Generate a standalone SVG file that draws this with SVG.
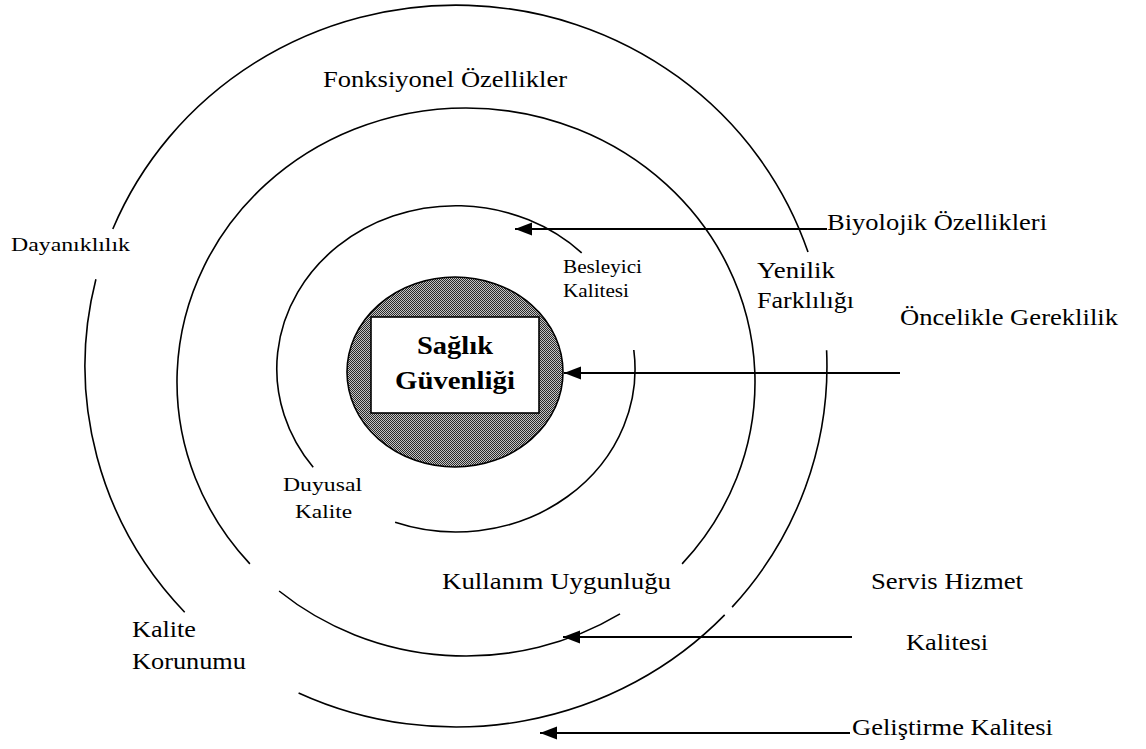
<svg xmlns="http://www.w3.org/2000/svg" width="1146" height="749" viewBox="0 0 1146 749">
<style>
.ring{fill:none;stroke:#000;stroke-width:1.6}
.conn{stroke:#000;stroke-width:2;fill:none;marker-end:url(#ah)}
.lbl{font-family:"Liberation Serif","Times New Roman",serif;fill:#000}
.t{font-size:23px}
.s{font-size:19.5px}
.b{font-size:25px;font-weight:bold}
</style>
<defs>
<marker id="ah" markerUnits="userSpaceOnUse" markerWidth="18" markerHeight="14" viewBox="0 -7 18 14" refX="17" refY="0" orient="auto">
<path d="M0,-6.5 L17,0 L0,6.5 z" fill="#000"/>
</marker>
<pattern id="dots" width="2" height="2" patternUnits="userSpaceOnUse">
<rect width="2" height="2" fill="#c4c4c4"/>
<rect width="1" height="1" fill="#2a2a2a"/>
<rect x="1" y="1" width="1" height="1" fill="#2a2a2a"/>
</pattern>
</defs>
<rect width="1146" height="749" fill="#fff"/>

<g id="ring-outer">
<path class="ring" d="M112.8,229 A371,361 0 0 1 808,252.1"/>
<path class="ring" d="M826.6,350.3 A371,361 0 0 1 732.1,607.1"/>
<path class="ring" d="M724.7,614.9 A371,361 0 0 1 298.6,692.9"/>
<path class="ring" d="M184.7,612.2 A371,361 0 0 1 95.9,279.3"/>
</g>
<g id="ring-middle">
<path class="ring" d="M249.9,563.9 A289,274 0 1 1 682.1,563.9"/>
<path class="ring" d="M620,613.9 A289,274 0 0 1 279.1,591"/>
</g>
<g id="ring-inner">
<path class="ring" d="M313.2,467.3 A179,163 0 0 1 581.7,252.9"/>
<path class="ring" d="M633.8,350 A179,163 0 0 1 395.1,522.3"/>
</g>

<g id="core">
<ellipse cx="455" cy="372" rx="108" ry="95" fill="url(#dots)" stroke="#000" stroke-width="1.6"/>
<rect x="371" y="317" width="168" height="96" fill="#fff" stroke="#000" stroke-width="1.6"/>
<text class="lbl b" x="455" y="354" text-anchor="middle" textLength="76" lengthAdjust="spacingAndGlyphs">Sağlık</text>
<text class="lbl b" x="455" y="389" text-anchor="middle" textLength="120" lengthAdjust="spacingAndGlyphs">Güvenliği</text>
</g>

<g id="connectors">
<line class="conn" x1="827" y1="229" x2="515" y2="229"/>
<line class="conn" x1="900" y1="373" x2="564" y2="373"/>
<line class="conn" x1="852" y1="637" x2="563" y2="637"/>
<line class="conn" x1="850" y1="733" x2="540" y2="733"/>
</g>

<g id="labels">
<text class="lbl t" x="323" y="87" textLength="244" lengthAdjust="spacingAndGlyphs">Fonksiyonel Özellikler</text>
<text class="lbl s" x="11" y="251" textLength="119" lengthAdjust="spacingAndGlyphs">Dayanıklılık</text>
<text class="lbl t" x="827" y="230" textLength="220" lengthAdjust="spacingAndGlyphs">Biyolojik Özellikleri</text>
<text class="lbl t" x="757" y="278" textLength="78" lengthAdjust="spacingAndGlyphs">Yenilik</text>
<text class="lbl t" x="757" y="308" textLength="97" lengthAdjust="spacingAndGlyphs">Farklılığı</text>
<text class="lbl s" x="563" y="273" textLength="79" lengthAdjust="spacingAndGlyphs">Besleyici</text>
<text class="lbl s" x="563" y="297" textLength="66" lengthAdjust="spacingAndGlyphs">Kalitesi</text>
<text class="lbl t" x="900" y="325" textLength="218" lengthAdjust="spacingAndGlyphs">Öncelikle Gereklilik</text>
<text class="lbl s" x="283" y="491" textLength="79" lengthAdjust="spacingAndGlyphs">Duyusal</text>
<text class="lbl s" x="295" y="518" textLength="57" lengthAdjust="spacingAndGlyphs">Kalite</text>
<text class="lbl t" x="442" y="589" textLength="229" lengthAdjust="spacingAndGlyphs">Kullanım Uygunluğu</text>
<text class="lbl t" x="871" y="589" textLength="152" lengthAdjust="spacingAndGlyphs">Servis Hizmet</text>
<text class="lbl t" x="906" y="650" textLength="82" lengthAdjust="spacingAndGlyphs">Kalitesi</text>
<text class="lbl t" x="132" y="637" textLength="64" lengthAdjust="spacingAndGlyphs">Kalite</text>
<text class="lbl t" x="132" y="669" textLength="114" lengthAdjust="spacingAndGlyphs">Korunumu</text>
<text class="lbl t" x="852" y="735" textLength="201" lengthAdjust="spacingAndGlyphs">Geliştirme Kalitesi</text>
</g>
</svg>
